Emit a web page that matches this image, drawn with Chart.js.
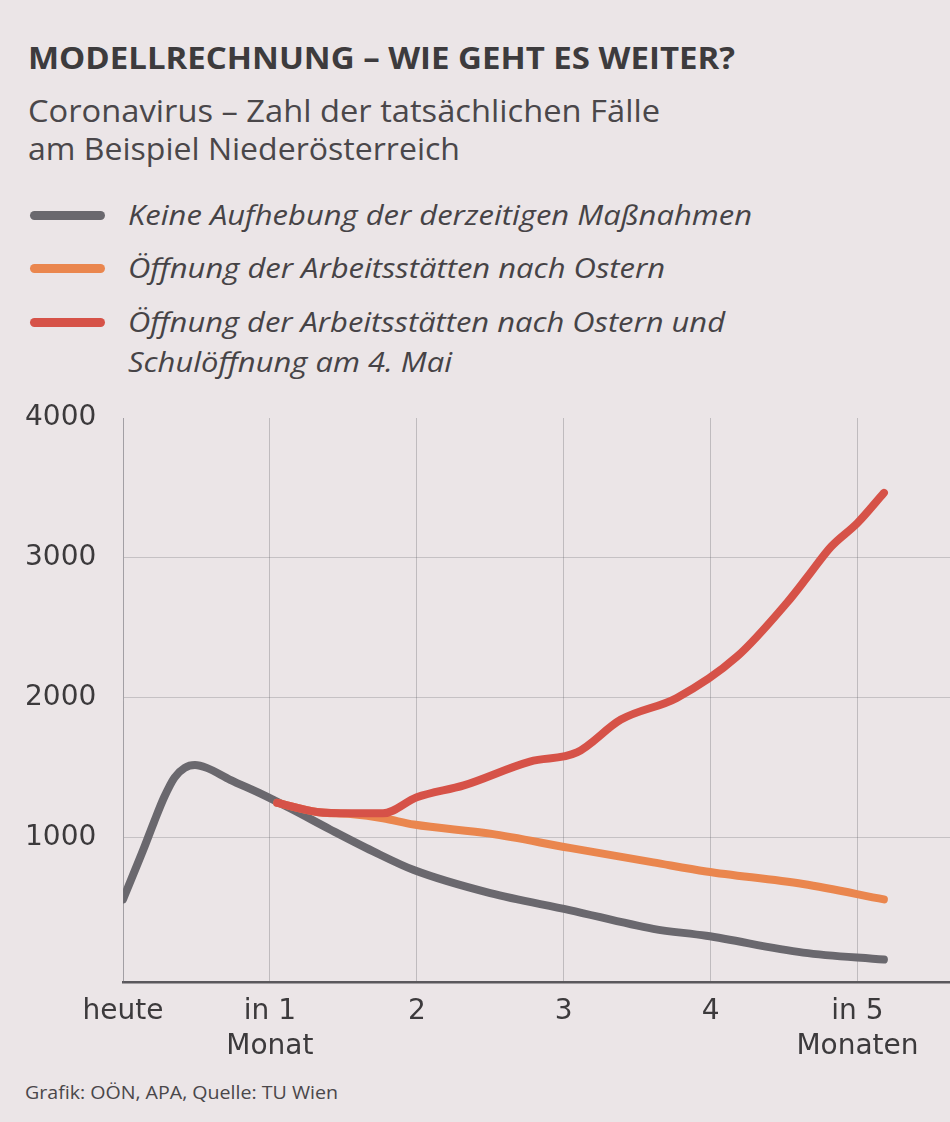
<!DOCTYPE html>
<html>
<head>
<meta charset="utf-8">
<script src="https://cdn.jsdelivr.net/npm/chart.js@4.4.1/dist/chart.umd.min.js"></script>
<style>
  html, body { margin: 0; padding: 0; }
  body { width: 950px; height: 1122px; background: #ebe5e7; position: relative; overflow: hidden; font-family: "Open Sans", sans-serif; color: #3d3b3d; }
  .txt { position: absolute; left: 0; white-space: nowrap; }
  .txt span { display: inline-block; transform-origin: left center; }
  .sw { position: absolute; left: 30px; width: 75px; height: 9px; border-radius: 5px; }
  #wrap { position: absolute; left: 0; top: 395px; width: 950px; height: 675px; }
</style>
</head>
<body>

<div class="txt" style="left:28px;top:36px;font-size:31px;font-weight:700;line-height:42px;"><span data-w="707">MODELLRECHNUNG – WIE GEHT ES WEITER?</span></div>
<div class="txt" style="left:28px;top:90px;font-size:31px;font-weight:400;line-height:40px;color:#4a474a;"><span data-w="632">Coronavirus – Zahl der tatsächlichen Fälle</span></div>
<div class="txt" style="left:28px;top:128px;font-size:31px;font-weight:400;line-height:40px;color:#4a474a;"><span data-w="432">am Beispiel Niederösterreich</span></div>

<div id="legend"></div>

<div id="wrap"><canvas id="modellChart"></canvas></div>

<div class="txt" style="left:25px;top:1080px;font-size:18px;line-height:24px;color:#4a474a;"><span data-w="313">Grafik: OÖN, APA, Quelle: TU Wien</span></div>

<script>
// Werte (x = Monate ab heute)
var greyMonths  = [0, 0.14, 0.21, 0.28, 0.35, 0.42, 0.49, 0.57, 0.73, 0.93, 1.14, 1.41, 1.70, 1.98, 2.50, 3.04, 3.61, 3.97, 4.63, 5.18];
var greyCases   = [560, 920, 1110, 1290, 1430, 1500, 1520, 1500, 1415, 1320, 1210, 1060, 905, 770, 605, 484, 350, 300, 180, 130];

var orangeMonths = [1.05, 1.32, 1.55, 1.77, 1.98, 2.50, 3.04, 3.61, 3.97, 4.63, 5.18];
var orangeCases  = [1250, 1185, 1170, 1140, 1095, 1030, 928, 825, 760, 670, 560];

var redMonths = [1.05, 1.32, 1.55, 1.77, 2.0, 2.32, 2.77, 3.09, 3.39, 3.77, 4.18, 4.52, 4.66, 4.82, 5.0, 5.18];
var redCases  = [1250, 1185, 1175, 1175, 1290, 1375, 1545, 1610, 1845, 2000, 2295, 2680, 2865, 3080, 3250, 3465];

var xTickValues = [0, 1, 2, 3, 4, 5];
var xTickLabels = ['heute', ['in 1', 'Monat'], '2', '3', '4', ['in 5', 'Monaten']];
var yTickValues = [1000, 2000, 3000, 4000];

var seriesLabels = [
    ['Keine Aufhebung der derzeitigen Maßnahmen'],
    ['Öffnung der Arbeitsstätten nach Ostern'],
    ['Öffnung der Arbeitsstätten nach Ostern und', 'Schulöffnung am 4. Mai']
];
var seriesColors = ['rgb(106,104,110)', 'rgb(234,134,78)', 'rgb(214,82,72)'];

function toPoints(xs, ys) {
    return xs.map(function (x, i) { return { x: x, y: ys[i] }; });
}

// Legende (HTML)
var legendTop = [215, 268, 322];
var legendWidths = [[624], [537], [597, 324]];
var legend = document.getElementById('legend');
seriesLabels.forEach(function (lines, i) {
    var sw = document.createElement('div');
    sw.className = 'sw';
    sw.style.top = (legendTop[i] - 4) + 'px';
    sw.style.background = seriesColors[i];
    legend.appendChild(sw);
    lines.forEach(function (line, j) {
        var d = document.createElement('div');
        d.className = 'txt';
        d.style.cssText = 'left:128px;font-size:27px;font-style:italic;line-height:36px;color:#464346;top:' + (legendTop[i] - 18 + j * 40) + 'px';
        var s = document.createElement('span');
        s.textContent = line;
        s.setAttribute('data-w', legendWidths[i][j]);
        d.appendChild(s);
        legend.appendChild(d);
    });
});

// Texte auf Breite bringen
document.querySelectorAll('span[data-w]').forEach(function (s) {
    var w = s.getBoundingClientRect().width;
    s.style.transform = 'scaleX(' + (parseFloat(s.getAttribute('data-w')) / w) + ')';
});

var line = function (label, data, color, order) {
    return {
        label: label,
        data: data,
        borderColor: color,
        backgroundColor: color,
        borderWidth: 8,
        pointRadius: 0,
        borderCapStyle: 'round',
        borderJoinStyle: 'round',
        cubicInterpolationMode: 'monotone',
        order: order
    };
};

var ctx = document.getElementById('modellChart').getContext('2d');
var modellChart = new Chart(ctx, {
    type: 'line',
    data: {
        datasets: [
            line(seriesLabels[0].join(' '), toPoints(greyMonths, greyCases), seriesColors[0], 3),
            line(seriesLabels[1].join(' '), toPoints(orangeMonths, orangeCases), seriesColors[1], 2),
            line(seriesLabels[2].join(' '), toPoints(redMonths, redCases), seriesColors[2], 1)
        ]
    },
    options: {
        responsive: true,
        maintainAspectRatio: false,
        animation: false,
        layout: { padding: { top: 23, left: 25, right: 0, bottom: 0 } },
        plugins: {
            legend: { display: false },
            tooltip: { enabled: false }
        },
        scales: {
            x: {
                type: 'linear',
                min: 0,
                max: 5.63,
                afterBuildTicks: function (scale) {
                    scale.ticks = xTickValues.map(function (v) { return { value: v }; });
                },
                afterFit: function (scale) { scale.height = 88; },
                ticks: {
                    callback: function (v) { return xTickLabels[xTickValues.indexOf(v)]; },
                    font: { family: 'DejaVu Sans', size: 28, lineHeight: 1.25 },
                    color: '#3c3a3c',
                    padding: 12,
                    maxRotation: 0
                },
                grid: { color: 'rgba(110,110,115,0.35)', lineWidth: 1, drawTicks: false },
                border: { color: '#5a585c', width: 2.5 }
            },
            y: {
                min: -30,
                max: 4000,
                afterBuildTicks: function (scale) {
                    scale.ticks = yTickValues.map(function (v) { return { value: v }; });
                },
                afterFit: function (scale) { scale.width = 98; },
                ticks: {
                    callback: function (v) { return String(v); },
                    font: { family: 'DejaVu Sans', size: 28 },
                    color: '#3c3a3c',
                    crossAlign: 'far',
                    padding: 0
                },
                grid: {
                    color: function (c) { return c.tick && c.tick.value === 4000 ? 'rgba(0,0,0,0)' : 'rgba(110,110,115,0.3)'; },
                    lineWidth: 1,
                    drawTicks: false
                },
                border: { color: 'rgba(110,110,115,0.35)', width: 1 }
            }
        }
    }
});
</script>
</body>
</html>
